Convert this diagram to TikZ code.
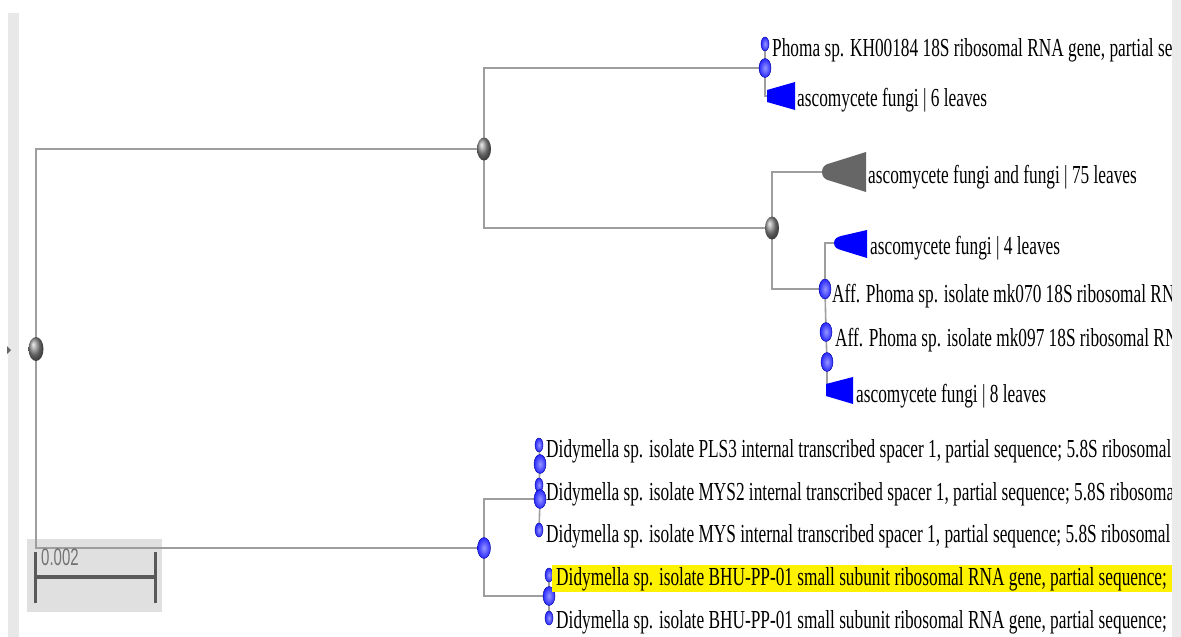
\documentclass[tikz,border=0pt]{standalone}
\usepackage{fontspec}
\setmainfont{Liberation Serif}
\setsansfont{Liberation Sans}
\usetikzlibrary{shapes.geometric}
\pgfdeclarelayer{back}
\pgfdeclarelayer{bg}
\pgfsetlayers{back,bg,main}
\definecolor{nodeblue}{RGB}{40,40,255}
\definecolor{nodelight}{RGB}{150,150,255}
\newcommand{\stretchtxt}[1]{\scalebox{1}[1.5]{#1}}
\begin{document}
\begin{tikzpicture}[x=1pt,y=-1pt,
  branch/.style={draw=black!38, line width=1.6pt},
  gnode/.style={ellipse, inner sep=0pt, minimum width=14pt, minimum height=23pt, ball color=black!45, draw=none},
  bnode/.style={ellipse, inner sep=0pt, minimum width=12pt, minimum height=19pt, inner color=nodelight, outer color=nodeblue, draw=blue!60!black, line width=0.4pt},
  bdot/.style={bnode, minimum width=8pt, minimum height=14pt},
  lbl/.style={anchor=base west, inner sep=0pt, text=black, font=\fontsize{17.3}{20}\selectfont},
  btri/.style={fill=blue},
  gtri/.style={fill=black!60},
  sbar/.style={draw=black!65, line width=3pt},
]
\useasboundingbox (0,0) rectangle (1181,637);
\begin{pgfonlayer}{back}
\fill[white] (0,0) rectangle (1181,637);
% side strips
\fill[black!9] (8,13) rectangle (19,637);
\fill[black!60] (7,346) -- (11,350) -- (7,354) -- cycle;
% scale bar box
\fill[black!12] (27,539) rectangle (162,612);
\end{pgfonlayer}
\draw[sbar] (35,552) -- (35,603);
\draw[sbar] (155,552) -- (155,603);
\draw[draw=black!65, line width=4.5pt] (35,577) -- (155,577);
\node[anchor=base west, inner sep=0pt, text=black!55, font=\sffamily\fontsize{15}{18}\selectfont] (scl) at (41,565) {\scalebox{1}[1.6]{0.002}};

% nodes
\node[gnode, minimum width=15pt, minimum height=24pt] (root) at (36,349) {};
\node[gnode] (n1) at (484,149) {};
\node[bnode] (n2) at (765,68) {};
\node[bdot] (l1) at (765,44) {};
\coordinate (t6) at (767,96);
\node[gnode] (n3) at (772,228) {};
\coordinate (t75) at (823,172);
\node[bnode, minimum width=12pt, minimum height=20pt] (n4) at (825,289) {};
\coordinate (t4) at (835,243);
\node[bnode] (n5) at (826,332) {};
\node[bnode] (n6) at (827,362) {};
\coordinate (t8) at (826,390);
\node[bnode, minimum width=13pt, minimum height=21pt] (n7) at (484,548) {};
\node[bdot] (d1) at (539,445) {};
\node[bnode] (n8b) at (540,464) {};
\node[bdot] (d2) at (539,485) {};
\node[bnode] (n8) at (540,499) {};
\node[bdot] (d3) at (539,530) {};
\node[bnode] (n9) at (549,596) {};
\node[bdot] (d4) at (549,575) {};
\node[bdot] (d5) at (549,618) {};

% branches
\begin{pgfonlayer}{bg}
\draw[branch] (n1.center) -| (root.center) |- (n7.center);
\draw[branch] (n2.center) -| (n1.center) |- (n3.center);
\draw[branch] (l1.center) -- (n2.center) |- (t6);
\draw[branch] (t75) -| (n3.center) |- (n4.center);
\draw[branch] (t4) -| (n4.center) -- (n5.center) -- (n6.center) |- (t8);
\draw[branch] (n8.center) -| (n7.center) |- (n9.center);
\draw[branch] (d1.center) -- (n8b.center) -- (d2.center) -- (n8.center) -- (d3.center);
\draw[branch] (d4.center) -- (n9.center) -- (d5.center);
\end{pgfonlayer}

% collapsed clades
\fill[btri] (767,90) -- (795,82) -- (795,110) -- (767,102) -- cycle;
\fill[gtri] (822,172) .. controls (822,167) and (825,164) .. (831,163) -- (866,152) -- (866,192) -- (831,181) .. controls (825,180) and (822,177) .. (822,172) -- cycle;
\fill[btri] (834,243) .. controls (834,239) and (837,237) .. (841,236) -- (867,230) -- (867,258) -- (841,250) .. controls (837,249) and (834,247) .. (834,243) -- cycle;
\fill[btri] (826,384) -- (853,377) -- (853,404) -- (826,396) -- cycle;

% highlight
\fill[yellow] (552,565) rectangle (1172,592);

% labels
\begin{scope}
\clip (0,0) rectangle (1172,637);
\node[lbl] (tphoma) at (772,56) {\stretchtxt{Phoma sp. KH00184 18S ribosomal RNA gene, partial se}};
\node[lbl] (t6l) at (797,106) {\stretchtxt{ascomycete fungi | 6 leaves}};
\node[lbl] (t75l) at (868,183) {\stretchtxt{ascomycete fungi and fungi | 75 leaves}};
\node[lbl] (t4l) at (870,254) {\stretchtxt{ascomycete fungi | 4 leaves}};
\node[lbl] (tmk70) at (832,302) {\stretchtxt{Aff. Phoma sp. isolate mk070 18S ribosomal RN}};
\node[lbl] (tmk97) at (835,346) {\stretchtxt{Aff. Phoma sp. isolate mk097 18S ribosomal RN}};
\node[lbl] (t8l) at (856,402) {\stretchtxt{ascomycete fungi | 8 leaves}};
\node[lbl] (tpls) at (546,457) {\stretchtxt{Didymella sp. isolate PLS3 internal transcribed spacer 1, partial sequence; 5.8S ribosomal}};
\node[lbl] (tmys2) at (546,500) {\stretchtxt{Didymella sp. isolate MYS2 internal transcribed spacer 1, partial sequence; 5.8S ribosoma}};
\node[lbl] (tmys) at (546,542) {\stretchtxt{Didymella sp. isolate MYS internal transcribed spacer 1, partial sequence; 5.8S ribosomal}};
\node[lbl] (tbhu1) at (556,585) {\stretchtxt{Didymella sp. isolate BHU-PP-01 small subunit ribosomal RNA gene, partial sequence;}};
\node[lbl] (tbhu2) at (556,628) {\stretchtxt{Didymella sp. isolate BHU-PP-01 small subunit ribosomal RNA gene, partial sequence;}};
\end{scope}
\fill[black!8] (1172,0) rectangle (1181,637);
\end{tikzpicture}
\end{document}
